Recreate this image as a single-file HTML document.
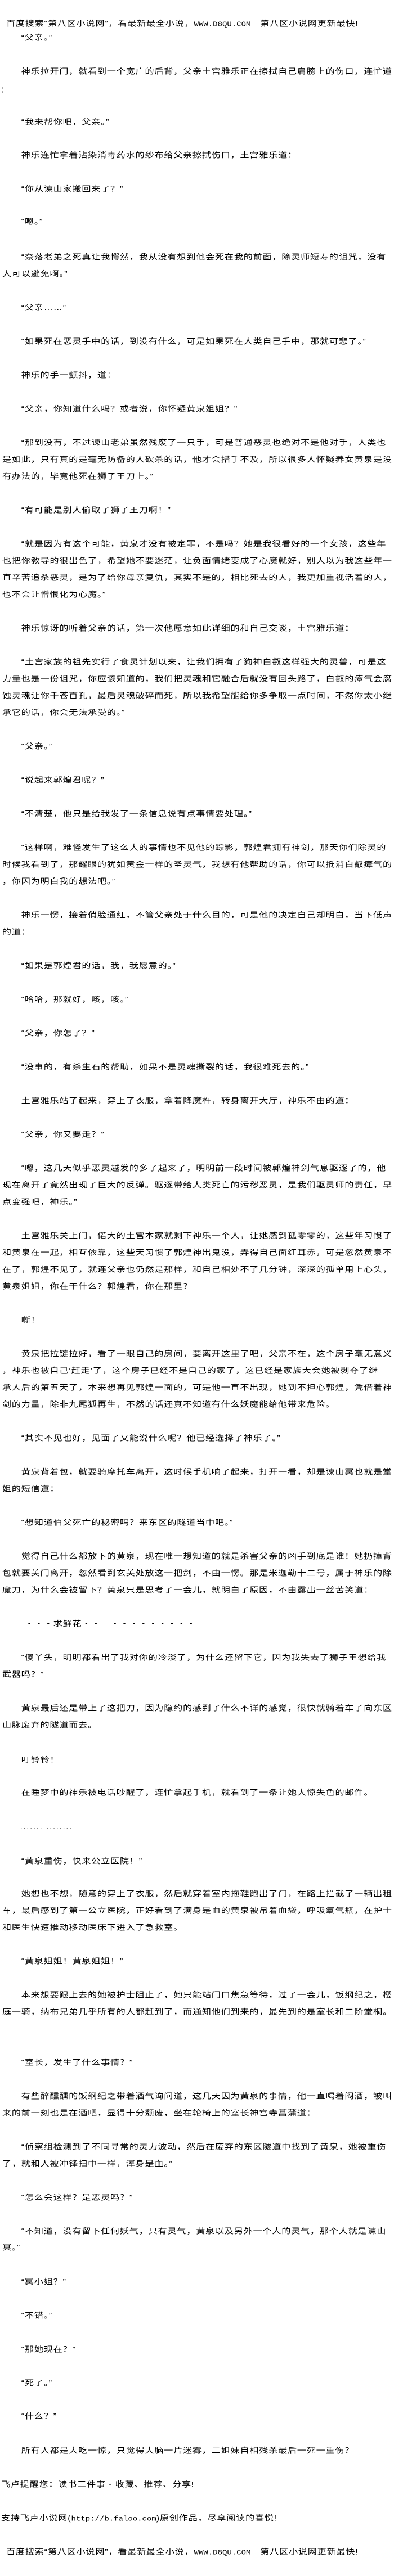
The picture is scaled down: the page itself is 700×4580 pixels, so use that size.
<!DOCTYPE html>
<html><head><meta charset="utf-8">
<style>
html,body{margin:0;padding:0;background:#fff;}
body{width:700px;height:4580px;position:relative;overflow:hidden;color:#000;
font-family:"Liberation Sans","Noto Sans CJK SC",sans-serif;}
.l{position:absolute;left:4px;white-space:nowrap;font-size:16px;letter-spacing:0.9px;line-height:20px;transform:scaleY(.85);transform-origin:left center;}
.m{font-family:"Liberation Mono","Noto Sans CJK SC",monospace;letter-spacing:0;font-size:14px;}
.d{font-size:12px;letter-spacing:2.5px;}
</style></head><body>
<div class="l" style="top:33px;left:11px">百度搜索“第八区小说网”，看最新最全小说，<span class="m">WWW.D8QU.COM</span>　第八区小说网更新最快!</div>
<div class="l" style="top:58px">　　“父亲。”</div>
<div class="l" style="top:118px">　　神乐拉开门，就看到一个宽广的后背，父亲土宫雅乐正在擦拭自己肩膀上的伤口，连忙道</div>
<div class="l" style="top:151px;left:0">：</div>
<div class="l" style="top:208px">　　“我来帮你吧，父亲。”</div>
<div class="l" style="top:267px">　　神乐连忙拿着沾染消毒药水的纱布给父亲擦拭伤口，土宫雅乐道：</div>
<div class="l" style="top:327px">　　“你从谏山家搬回来了？”</div>
<div class="l" style="top:385px">　　“嗯。”</div>
<div class="l" style="top:448px">　　“奈落老弟之死真让我愕然，我从没有想到他会死在我的前面，除灵师短寿的诅咒，没有</div>
<div class="l" style="top:478px">人可以避免啊。”</div>
<div class="l" style="top:538px">　　“父亲……”</div>
<div class="l" style="top:598px">　　“如果死在恶灵手中的话，到没有什么，可是如果死在人类自己手中，那就可悲了。”</div>
<div class="l" style="top:658px">　　神乐的手一颤抖，道：</div>
<div class="l" style="top:718px">　　“父亲，你知道什么吗？或者说，你怀疑黄泉姐姐？”</div>
<div class="l" style="top:778px">　　“那到没有，不过谏山老弟虽然残废了一只手，可是普通恶灵也绝对不是他对手，人类也</div>
<div class="l" style="top:808px">是如此，只有真的是毫无防备的人砍杀的话，他才会措手不及，所以很多人怀疑养女黄泉是没</div>
<div class="l" style="top:838px">有办法的，毕竟他死在狮子王刀上。”</div>
<div class="l" style="top:898px">　　“有可能是别人偷取了狮子王刀啊！”</div>
<div class="l" style="top:958px">　　“就是因为有这个可能，黄泉才没有被定罪，不是吗？她是我很看好的一个女孩，这些年</div>
<div class="l" style="top:988px">也把你教导的很出色了，希望她不要迷茫，让负面情绪变成了心魔就好，别人以为我这些年一</div>
<div class="l" style="top:1018px">直辛苦追杀恶灵，是为了给你母亲复仇，其实不是的，相比死去的人，我更加重视活着的人，</div>
<div class="l" style="top:1048px">也不会让憎恨化为心魔。”</div>
<div class="l" style="top:1108px">　　神乐惊讶的听着父亲的话，第一次他愿意如此详细的和自己交谈，土宫雅乐道：</div>
<div class="l" style="top:1168px">　　“土宫家族的祖先实行了食灵计划以来，让我们拥有了狗神白叡这样强大的灵兽，可是这</div>
<div class="l" style="top:1198px">力量也是一份诅咒，你应该知道的，我们把灵魂和它融合后就没有回头路了，白叡的瘴气会腐</div>
<div class="l" style="top:1228px">蚀灵魂让你千苍百孔，最后灵魂破碎而死，所以我希望能给你多争取一点时间，不然你太小继</div>
<div class="l" style="top:1258px">承它的话，你会无法承受的。”</div>
<div class="l" style="top:1318px">　　“父亲。”</div>
<div class="l" style="top:1378px">　　“说起来郭煌君呢？”</div>
<div class="l" style="top:1438px">　　“不清楚，他只是给我发了一条信息说有点事情要处理。”</div>
<div class="l" style="top:1498px">　　“这样啊，难怪发生了这么大的事情也不见他的踪影，郭煌君拥有神剑，那天你们除灵的</div>
<div class="l" style="top:1528px">时候我看到了，那耀眼的犹如黄金一样的圣灵气，我想有他帮助的话，你可以抵消白叡瘴气的</div>
<div class="l" style="top:1558px">，你因为明白我的想法吧。”</div>
<div class="l" style="top:1618px">　　神乐一愣，接着俏脸通红，不管父亲处于什么目的，可是他的决定自己却明白，当下低声</div>
<div class="l" style="top:1648px">的道：</div>
<div class="l" style="top:1708px">　　“如果是郭煌君的话，我，我愿意的。”</div>
<div class="l" style="top:1768px">　　“哈哈，那就好，咳，咳。”</div>
<div class="l" style="top:1828px">　　“父亲，你怎了？”</div>
<div class="l" style="top:1888px">　　“没事的，有杀生石的帮助，如果不是灵魂撕裂的话，我很难死去的。”</div>
<div class="l" style="top:1948px">　　土宫雅乐站了起来，穿上了衣服，拿着降魔杵，转身离开大厅，神乐不由的道：</div>
<div class="l" style="top:2008px">　　“父亲，你又要走？”</div>
<div class="l" style="top:2068px">　　“嗯，这几天似乎恶灵越发的多了起来了，明明前一段时间被郭煌神剑气息驱逐了的，他</div>
<div class="l" style="top:2098px">现在离开了竟然出现了巨大的反弹。驱逐带给人类死亡的污秽恶灵，是我们驱灵师的责任，早</div>
<div class="l" style="top:2128px">点变强吧，神乐。”</div>
<div class="l" style="top:2188px">　　土宫雅乐关上门，偌大的土宫本家就剩下神乐一个人，让她感到孤零零的，这些年习惯了</div>
<div class="l" style="top:2218px">和黄泉在一起，相互依靠，这些天习惯了郭煌神出鬼没，弄得自己面红耳赤，可是忽然黄泉不</div>
<div class="l" style="top:2248px">在了，郭煌不见了，就连父亲也仍然是那样，和自己相处不了几分钟，深深的孤单用上心头，</div>
<div class="l" style="top:2278px">黄泉姐姐，你在干什么？郭煌君，你在那里？</div>
<div class="l" style="top:2338px">　　嘶！</div>
<div class="l" style="top:2398px">　　黄泉把拉链拉好，看了一眼自己的房间，要离开这里了吧，父亲不在，这个房子毫无意义</div>
<div class="l" style="top:2428px">，神乐也被自己‘赶走’了，这个房子已经不是自己的家了，这已经是家族大会她被剥夺了继</div>
<div class="l" style="top:2458px">承人后的第五天了，本来想再见郭煌一面的，可是他一直不出现，她到不担心郭煌，凭借着神</div>
<div class="l" style="top:2488px">剑的力量，除非九尾狐再生，不然的话还真不知道有什么妖魔能给他带来危险。</div>
<div class="l" style="top:2548px">　　“其实不见也好，见面了又能说什么呢？他已经选择了神乐了。”</div>
<div class="l" style="top:2608px">　　黄泉背着包，就要骑摩托车离开，这时候手机响了起来，打开一看，却是谏山冥也就是堂</div>
<div class="l" style="top:2638px">姐的短信道：</div>
<div class="l" style="top:2698px">　　“想知道伯父死亡的秘密吗？来东区的隧道当中吧。”</div>
<div class="l" style="top:2758px">　　觉得自己什么都放下的黄泉，现在唯一想知道的就是杀害父亲的凶手到底是谁！她扔掉背</div>
<div class="l" style="top:2788px">包就要关门离开，忽然看到玄关处放这一把剑，不由一愣。那是米迦勒十二号，属于神乐的除</div>
<div class="l" style="top:2818px">魔刀，为什么会被留下？黄泉只是思考了一会儿，就明白了原因，不由露出一丝苦笑道：</div>
<div class="l" style="top:2878px;left:44px">・・・求鲜花・・　・・・・・・・・・</div>
<div class="l" style="top:2938px">　　“傻丫头，明明都看出了我对你的冷淡了，为什么还留下它，因为我失去了狮子王想给我</div>
<div class="l" style="top:2968px">武器吗？”</div>
<div class="l" style="top:3028px">　　黄泉最后还是带上了这把刀，因为隐约的感到了什么不详的感觉，很快就骑着车子向东区</div>
<div class="l" style="top:3058px">山脉废弃的隧道而去。</div>
<div class="l" style="top:3120px">　　叮铃铃！</div>
<div class="l" style="top:3178px">　　在睡梦中的神乐被电话吵醒了，连忙拿起手机，就看到了一条让她大惊失色的邮件。</div>
<div class="l d" style="top:3238px;left:36px">....... ........</div>
<div class="l" style="top:3300px">　　“黄泉重伤，快来公立医院！”</div>
<div class="l" style="top:3358px">　　她想也不想，随意的穿上了衣服，然后就穿着室内拖鞋跑出了门，在路上拦截了一辆出租</div>
<div class="l" style="top:3388px">车，最后感到了第一公立医院，正好看到了满身是血的黄泉被吊着血袋，呼吸氧气瓶，在护士</div>
<div class="l" style="top:3418px">和医生快速推动移动医床下进入了急救室。</div>
<div class="l" style="top:3478px">　　“黄泉姐姐！黄泉姐姐！”</div>
<div class="l" style="top:3538px">　　本来想要跟上去的她被护士阻止了，她只能站门口焦急等待，过了一会儿，饭纲纪之，樱</div>
<div class="l" style="top:3568px">庭一骑，纳布兄弟几乎所有的人都赶到了，而通知他们到来的，最先到的是室长和二阶堂桐。</div>
<div class="l" style="top:3658px">　　“室长，发生了什么事情？”</div>
<div class="l" style="top:3718px">　　有些醉醺醺的饭纲纪之带着酒气询问道，这几天因为黄泉的事情，他一直喝着闷酒，被叫</div>
<div class="l" style="top:3748px">来的前一刻也是在酒吧，显得十分颓废，坐在轮椅上的室长神宫寺菖蒲道：</div>
<div class="l" style="top:3808px">　　“侦察组检测到了不同寻常的灵力波动，然后在废弃的东区隧道中找到了黄泉，她被重伤</div>
<div class="l" style="top:3838px">了，就和人被冲锋扫中一样，浑身是血。”</div>
<div class="l" style="top:3898px">　　“怎么会这样？是恶灵吗？”</div>
<div class="l" style="top:3958px">　　“不知道，没有留下任何妖气，只有灵气，黄泉以及另外一个人的灵气，那个人就是谏山</div>
<div class="l" style="top:3987px">冥。”</div>
<div class="l" style="top:4048px">　　“冥小姐？”</div>
<div class="l" style="top:4108px">　　“不错。”</div>
<div class="l" style="top:4168px">　　“那她现在？”</div>
<div class="l" style="top:4228px">　　“死了。”</div>
<div class="l" style="top:4287px">　　“什么？”</div>
<div class="l" style="top:4348px">　　所有人都是大吃一惊，只觉得大脑一片迷雾，二姐妹自相残杀最后一死一重伤？</div>
<div class="l" style="top:4408px;left:2px">飞卢提醒您：读书三件事 - 收藏、推荐、分享!</div>
<div class="l" style="top:4468px;left:2px">支持飞卢小说网(<span class="m">http://b.faloo.com</span>)原创作品，尽享阅读的喜悦!</div>
<div class="l" style="top:4528px;left:11px">百度搜索“第八区小说网”，看最新最全小说，<span class="m">WWW.D8QU.COM</span>　第八区小说网更新最快!</div>
</body></html>
